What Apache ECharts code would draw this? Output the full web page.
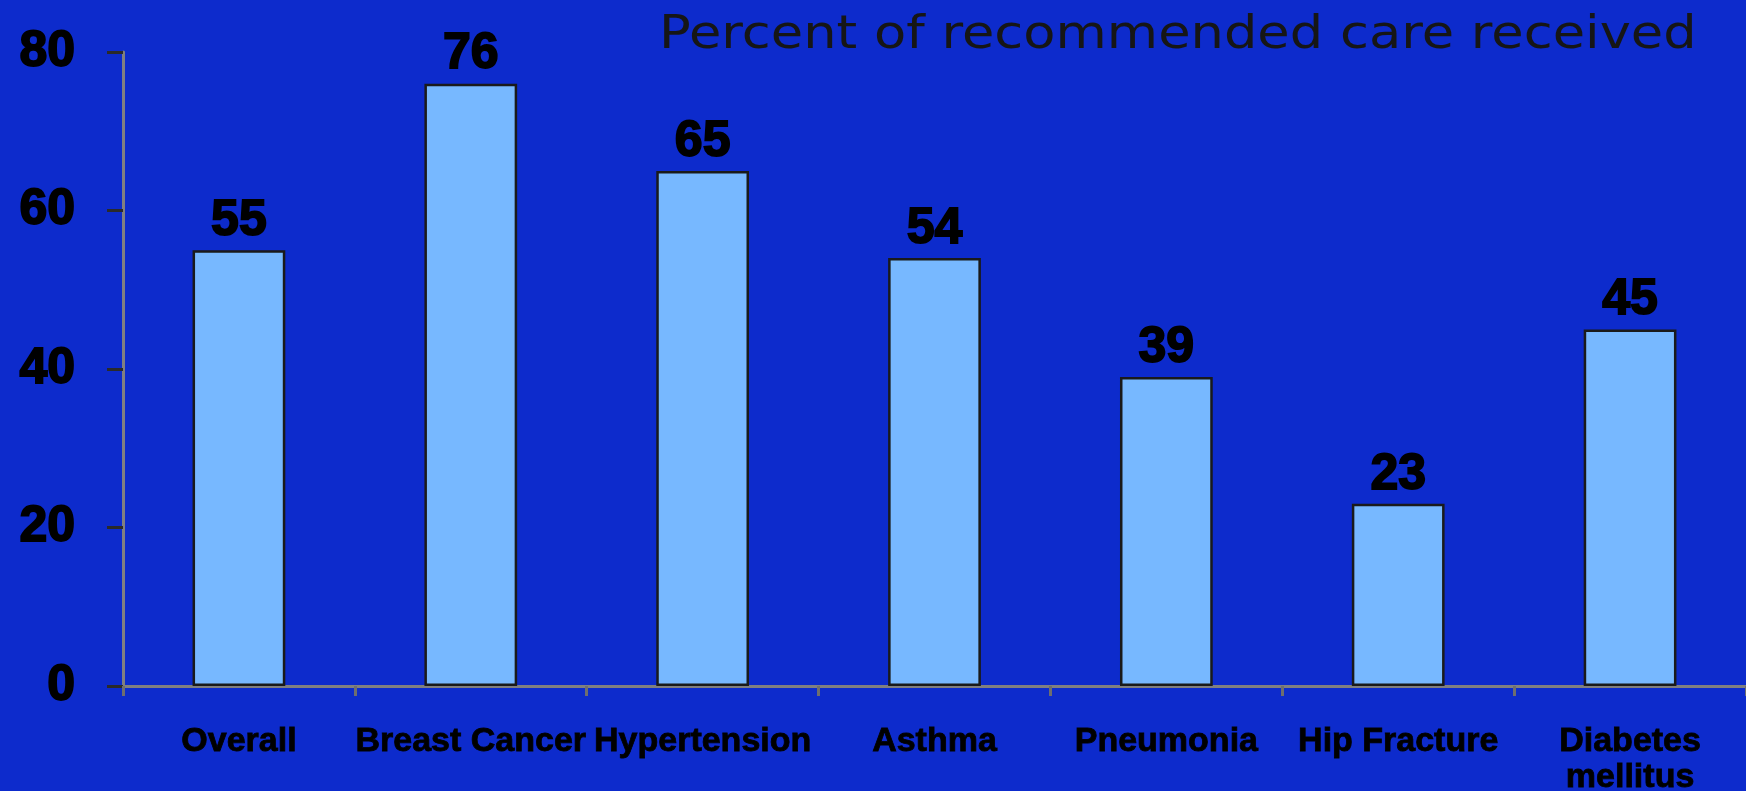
<!DOCTYPE html>
<html>
<head>
<meta charset="utf-8">
<style>
  html, body { margin: 0; padding: 0; background: #0d2bcc; }
  #chart { width: 1746px; height: 791px; }
</style>
<script src="https://cdn.jsdelivr.net/npm/echarts@6/dist/echarts.min.js"></script>
</head>
<body>
<div id="chart"></div>
<script>
// Share of recommended care received, by condition
const categories = ['Overall', 'Breast Cancer', 'Hypertension', 'Asthma', 'Pneumonia', 'Hip Fracture', 'Diabetes\nmellitus'];
const percentReceived = [55, 76, 65, 54, 39, 23, 45];
const yTicks = { min: 0, max: 80, interval: 20 };
const titleText = 'Percent of recommended care received';

const chart = echarts.init(document.getElementById('chart'), null, { renderer: 'canvas' });

// heavy black face shared by the axis numbers and the bar values
const heavyNumber = {
  color: '#000',
  fontFamily: 'Liberation Sans',
  fontWeight: 'bold',
  fontSize: 50,
  textBorderColor: '#000',
  textBorderWidth: 1.8
};

chart.setOption({
  backgroundColor: '#0d2bcc',
  animation: false,
  graphic: [{
    type: 'text',
    x: 659,
    y: 13,
    scaleX: 1.145,
    style: {
      text: titleText,
      font: 'normal 46px "DejaVu Sans"',
      fill: '#161616',
      textVerticalAlign: 'top',
      textAlign: 'left'
    }
  }],
  grid: { left: 123, right: 0, top: 52, bottom: 105, containLabel: false, outerBoundsMode: 'none' },
  xAxis: {
    type: 'category',
    data: categories,
    boundaryGap: true,
    axisLine: { show: true, lineStyle: { color: '#808080', width: 3 } },
    axisTick: { show: true, interval: 0, length: 10, lineStyle: { color: '#6e6e6e', width: 3 } },
    axisLabel: {
      interval: 0,
      margin: 38,
      color: '#000',
      fontFamily: 'Liberation Sans',
      fontWeight: 'bold',
      fontSize: 34,
      lineHeight: 36,
      textBorderColor: '#000',
      textBorderWidth: 0.8
    },
    splitLine: { show: false }
  },
  yAxis: {
    type: 'value',
    min: yTicks.min,
    max: yTicks.max,
    interval: yTicks.interval,
    axisLine: { show: true, lineStyle: { color: '#808080', width: 3 } },
    axisTick: { show: true, length: 16, lineStyle: { color: '#2a2a2a', width: 3 } },
    axisLabel: Object.assign({ margin: 48, padding: [6, 0, 0, 0] }, heavyNumber),
    splitLine: { show: false }
  },
  series: [{
    type: 'bar',
    data: percentReceived,
    barWidth: '40%',
    itemStyle: { color: '#77b8ff', borderColor: '#1a1a1a', borderWidth: 2.5 },
    label: Object.assign({ show: true, position: 'top', distance: 4 }, heavyNumber)
  }]
});
</script>
</body>
</html>
